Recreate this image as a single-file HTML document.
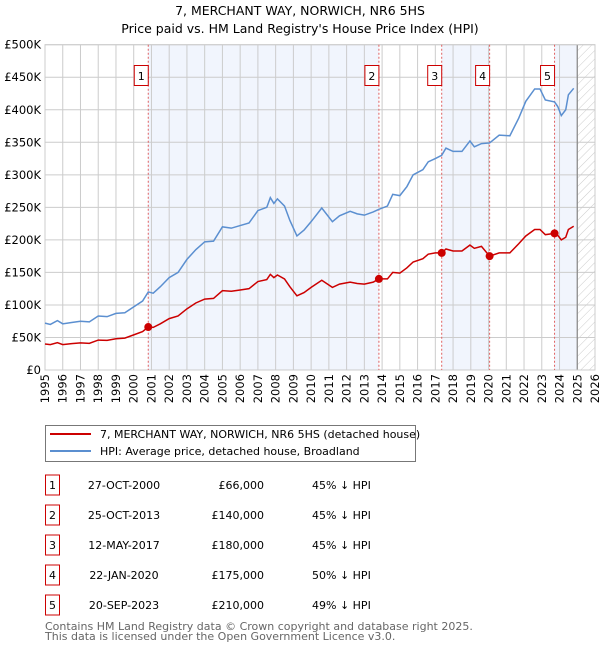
<!DOCTYPE html>
<html><head><meta charset="utf-8"><style>
body{margin:0;background:#fff;}
svg{display:block;font-family:"DejaVu Sans","Liberation Sans",sans-serif;}
</style></head><body>
<svg id="chart" width="600" height="650" viewBox="0 0 600 650">
<text x="300" y="15" text-anchor="middle" font-size="12.5" fill="#000">7, MERCHANT WAY, NORWICH, NR6 5HS</text>
<text x="300" y="33" text-anchor="middle" font-size="12.5" fill="#000">Price paid vs. HM Land Registry's House Price Index (HPI)</text>
<defs><pattern id="hatch" width="6" height="6" patternUnits="userSpaceOnUse" patternTransform="rotate(45)"><line x1="0" y1="0" x2="0" y2="6" stroke="#ccc" stroke-width="1"/></pattern></defs>
<g id="plot"></g>
<g>
<rect x="45.5" y="425.5" width="370" height="36" fill="#fff" stroke="#777"/>
<line x1="50" y1="434" x2="91" y2="434" stroke="#cc0000" stroke-width="2"/>
<text x="100" y="438" font-size="11">7, MERCHANT WAY, NORWICH, NR6 5HS (detached house)</text>
<line x1="50" y1="451" x2="91" y2="451" stroke="#5b8fd0" stroke-width="2"/>
<text x="100" y="455" font-size="11">HPI: Average price, detached house, Broadland</text>
</g>
<g id="table" font-size="11"></g>
<text x="45" y="630" font-size="11" fill="#666">Contains HM Land Registry data © Crown copyright and database right 2025.</text>
<text x="45" y="640" font-size="11" fill="#666">This data is licensed under the Open Government Licence v3.0.</text>
</svg>
<script>
const hpiYears=[1995.0,1995.3,1995.7,1996.0,1996.5,1997.0,1997.5,1998.0,1998.5,1999.0,1999.5,2000.0,2000.5,2000.82,2001.1,2001.5,2002.0,2002.5,2003.0,2003.5,2004.0,2004.5,2005.0,2005.5,2006.0,2006.5,2007.0,2007.5,2007.7,2007.9,2008.1,2008.5,2008.8,2009.2,2009.6,2010.0,2010.6,2011.2,2011.6,2012.2,2012.6,2013.0,2013.5,2013.82,2014.3,2014.6,2015.0,2015.4,2015.75,2016.3,2016.6,2017.0,2017.36,2017.6,2018.0,2018.5,2018.95,2019.2,2019.6,2020.06,2020.6,2021.2,2021.7,2022.1,2022.6,2022.9,2023.2,2023.72,2023.9,2024.1,2024.35,2024.5,2024.8];
const hpiValues=[72,70,76,71,73,75,74,83,82,87,88,97,106,120,118,128,142,150,170,185,197,198,220,218,222,226,245,250,265,256,263,252,230,206,215,228,249,228,237,244,240,238,243,247,252,270,268,282,300,308,320,325,330,341,336,336,352,343,348,349,361,360,387,413,432,432,415,412,405,391,400,423,433];
const redValues=[40,39,42,39,40.5,41.6,41,46,45.5,48,49,54,59,66,65.5,71,79,83,94,103,109,110,122,121,123,125,136,139,147,142,146,140,128,114,119,127,138,127,132,135,133,132,135,140,140,150,149,157,166,171,178,180,180,186,183,183,192,187,190,175,180,180,194,206,216,216,208,210,207,200,204,216,221];
const saleYears=[2000.82,2013.82,2017.36,2020.06,2023.72];
const salePrices=[66,140,180,175,210];
const saleDates=["27-OCT-2000","25-OCT-2013","12-MAY-2017","22-JAN-2020","20-SEP-2023"];
const salePriceLabels=["£66,000","£140,000","£180,000","£175,000","£210,000"];
const salePct=["45% ↓ HPI","45% ↓ HPI","45% ↓ HPI","50% ↓ HPI","49% ↓ HPI"];
const yTicks=[0,50,100,150,200,250,300,350,400,450,500];
const yTickLabels=["£0","£50K","£100K","£150K","£200K","£250K","£300K","£350K","£400K","£450K","£500K"];
const xTicks=[1995,1996,1997,1998,1999,2000,2001,2002,2003,2004,2005,2006,2007,2008,2009,2010,2011,2012,2013,2014,2015,2016,2017,2018,2019,2020,2021,2022,2023,2024,2025,2026];

const NS="http://www.w3.org/2000/svg";
const X0=45,X1=595,Y0=370,Y1=44.7;
const xs=y=>X0+(y-1995)/(2026-1995)*(X1-X0);
const ys=v=>Y0-v/500*(Y0-Y1);
const plot=document.getElementById('plot');
function mk(tag,attrs,parent){const e=document.createElementNS(NS,tag);for(const k in attrs)e.setAttribute(k,attrs[k]);(parent||plot).appendChild(e);return e;}

// shaded bands
const bandStarts=[saleYears[0],saleYears[2],saleYears[4]];
const bandEnds=[saleYears[1],saleYears[3],2025];
for(let i=0;i<bandStarts.length;i++){
 const r=mk('rect',{x:xs(bandStarts[i]),y:Y1,width:xs(bandEnds[i])-xs(bandStarts[i]),height:Y0-Y1,fill:'#eef3fc',opacity:0.8});
 
 
}
const hr=mk('rect',{x:xs(2025),y:Y1,width:X1-xs(2025),height:Y0-Y1,fill:'url(#hatch)'});


// grid
yTicks.forEach((t,i)=>{
 mk('line',{x1:X0,x2:X1,y1:ys(t),y2:ys(t),stroke:'#ccc','stroke-width':1});
 const tx=mk('text',{x:X0-4,y:ys(t)+4,'text-anchor':'end','font-size':11.5,fill:'#000'});
 tx.textContent=yTickLabels[i];
 
 
});
xTicks.forEach(t=>{
 mk('line',{x1:xs(t),x2:xs(t),y1:Y1,y2:Y0,stroke:'#ccc','stroke-width':1});
 const tx=mk('text',{x:0,y:0,'text-anchor':'end','font-size':11.5,transform:`translate(${xs(t)+4},${Y0+4}) rotate(-90)`});
 tx.textContent=t;
 
 
});
mk('line',{x1:xs(2025),x2:xs(2025),y1:Y1,y2:Y0,stroke:'#888','stroke-width':1.2});
mk('rect',{x:X0,y:Y1,width:X1-X0,height:Y0-Y1,fill:'none',stroke:'#ccc'});
// sale markers lines & labels
saleYears.forEach((s,i)=>{
 const l=mk('line',{x1:xs(s),x2:xs(s),y1:Y1,y2:Y0,stroke:'#e06060','stroke-width':1,'stroke-dasharray':'2,2'});
 
 
 const bx=xs(s)-6-8;
 const b=mk('rect',{x:bx,y:65.5,width:14,height:20,fill:'#fff',stroke:'#cc0000'});
 
 
 const t=mk('text',{x:bx+7,y:80,'text-anchor':'middle','font-size':11});
 t.textContent=String(i+1);
 
 
});
// lines
const hp=mk('polyline',{points:hpiYears.map((y,i)=>xs(y)+','+ys(hpiValues[i])).join(' '),fill:'none',stroke:'#5b8fd0','stroke-width':1.5});


const rp=mk('polyline',{points:hpiYears.map((y,i)=>xs(y)+','+ys(redValues[i])).join(' '),fill:'none',stroke:'#cc0000','stroke-width':1.5});


saleYears.forEach((s,i)=>{
 const c=mk('circle',{cx:xs(s),cy:ys(salePrices[i]),r:4,fill:'#cc0000'});
 
 
});
// table
const tbl=document.getElementById('table');
saleDates.forEach((d,i)=>{
 const yc=485+i*30;
 const b=mk('rect',{x:45.5,y:yc-10,width:14,height:20,fill:'#fff',stroke:'#cc0000'},tbl);
 
 
 const n=mk('text',{x:52.5,y:yc+4,'text-anchor':'middle'},tbl);n.textContent=String(i+1);
 
 
 const dt=mk('text',{x:124,y:yc+4,'text-anchor':'middle'},tbl);dt.textContent=d;
 
 
 const p=mk('text',{x:264,y:yc+4,'text-anchor':'end'},tbl);p.textContent=salePriceLabels[i];
 
 
 const pc=mk('text',{x:312,y:yc+4},tbl);pc.textContent=salePct[i];
 
 
});
</script>
</body></html>
